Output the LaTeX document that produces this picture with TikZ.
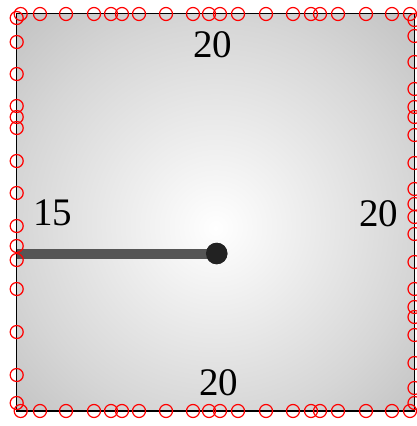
\documentclass[tikz,border=0pt]{standalone}
\usepackage{fontspec}
\setmainfont{Liberation Serif}
\pgfdeclareradialshading{boxshade}{\pgfpoint{0bp}{-2bp}}{color(0bp)=(white); color(25bp)=(black!16); color(36bp)=(black!24); color(50bp)=(black!24)}
\definecolor{rodgray}{HTML}{555555}
\definecolor{dotdark}{HTML}{222222}
\begin{document}
\begin{tikzpicture}[x=1pt,y=-1pt,
  ring/.style={draw=red,line width=1.2pt,fill=none},
  lbl/.style={font=\fontsize{39}{39}\selectfont,inner sep=0pt,anchor=center}]
\useasboundingbox (0,0) rectangle (416,426);
\shade[shading=boxshade] (16.5,13.5) rectangle (414.5,411);
\draw[line width=1.5pt] (16.5,13.5) rectangle (414.5,411);
\coordinate (w) at (16.5,253.5);
\node[circle,fill=dotdark,minimum size=21.5pt,inner sep=0pt] (dot) at (216.7,253.5) {};
\draw[rodgray,line width=10pt] (w) -- (dot.center);
\node[circle,fill=dotdark,minimum size=21.5pt,inner sep=0pt] at (dot) {};
\node[lbl] (top) at (212.5,45) {20};
\node[lbl] (left) at (52.5,213) {15};
\node[lbl] (right) at (378.5,214) {20};
\node[lbl] (bottom) at (218.5,383) {20};
\foreach \x in {20.7,40,66,94,111,122,139,166,193,209,220,238,266,293,311,320,338,366,392,410}
  {\draw[ring] (\x,14) circle[radius=6.5pt];
   \draw[ring] (\x,411) circle[radius=6.5pt];}
\foreach \y in {18,42,74,106,117,128,161,193,226,246,260,289,332,375,403}
  {\draw[ring] (16.7,\y) circle[radius=6.5pt];}
\foreach \y in {20,36,62,89,107,117,135,163,189,204,217,234,262,289,307,317,335,363,388,403}
  {\draw[ring] (414.5,\y) circle[radius=6.5pt];}
\end{tikzpicture}
\end{document}
